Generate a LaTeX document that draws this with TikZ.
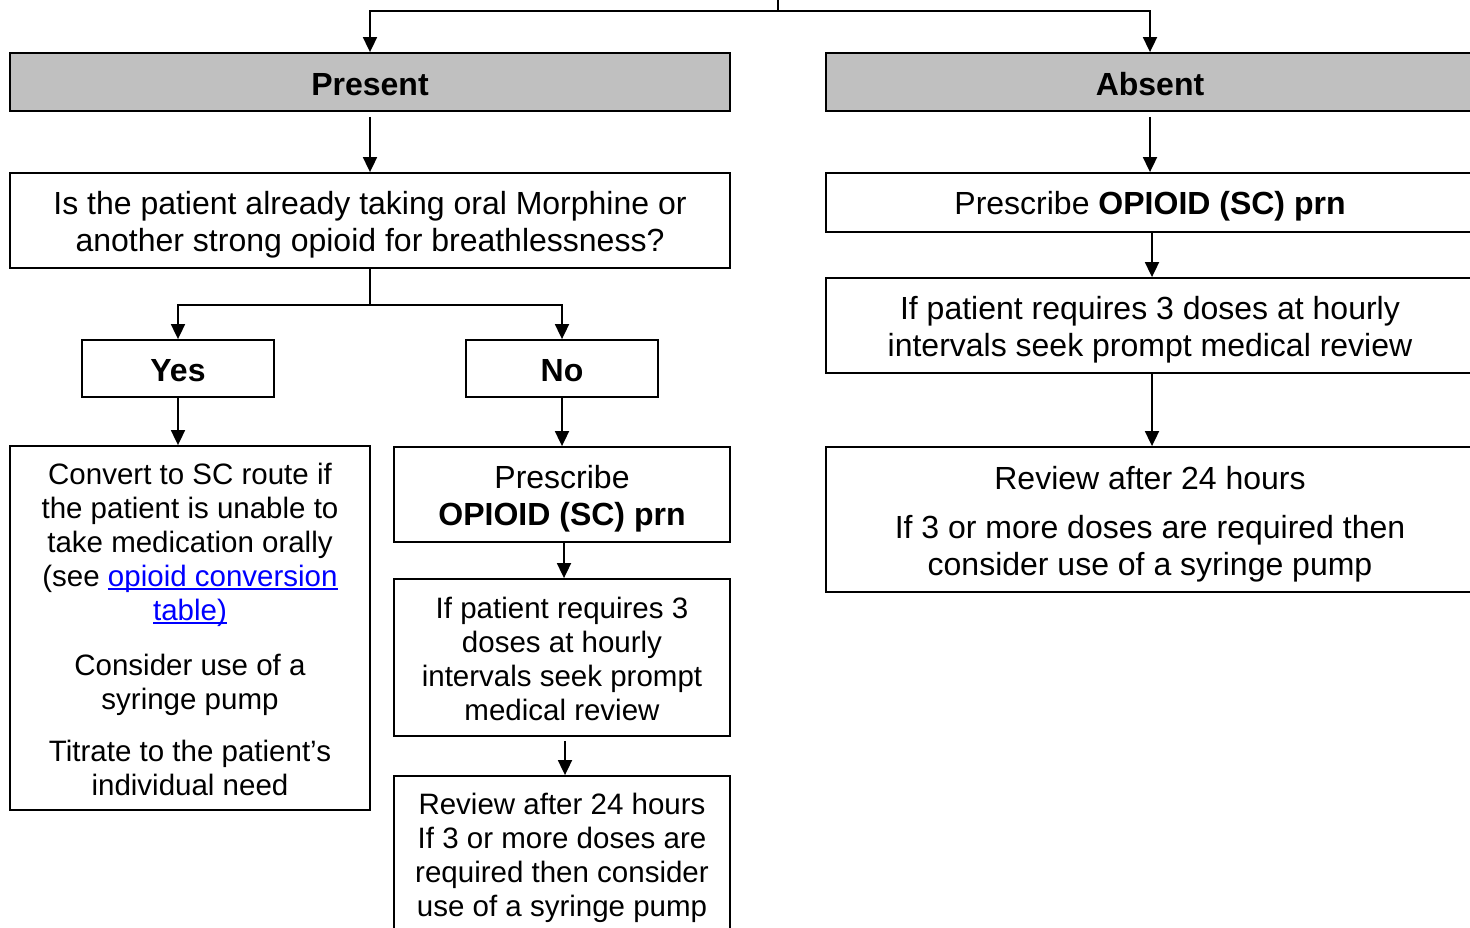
\documentclass[tikz,border=0pt]{standalone}
\usepackage{fontspec}
\setmainfont{Liberation Sans}
\usetikzlibrary{arrows.meta}
\definecolor{headgray}{HTML}{C0C0C0}
\definecolor{linkblue}{HTML}{0000FF}
\newcommand\lnk[1]{\textcolor{linkblue}{\setbox0\hbox{#1}\rlap{\rule[-3.5pt]{\wd0}{1.8pt}}\box0}}
\begin{document}
\begin{tikzpicture}[x=1pt,y=-1pt,
  box/.style={draw=black,line width=1.8pt,inner sep=0pt},
  txt/.style={align=center,inner sep=0pt},
  bigtxt/.style={txt,font=\fontsize{32}{36.8}\selectfont},
  smalltxt/.style={txt,font=\fontsize{29.5}{34}\selectfont},
  head/.style={box,fill=headgray},
  conn/.style={line width=1.8pt},
  arr/.style={conn,-{Triangle[length=15pt,width=14pt]}}
]
\useasboundingbox (0,0) rectangle (1470,928);
\clip (0,0) rectangle (1470,928);
% headers
\node[head,minimum width=720,minimum height=58] (present) at (370,82) {};
\node[bigtxt] (presentt) at ([yshift=-2.5pt]present.center) {\textbf{Present}};
\node[head,minimum width=648,minimum height=58] (absent) at (1150,82) {};
\node[bigtxt] (absentt) at ([yshift=-2.5pt]absent.center) {\textbf{Absent}};
% left column
\node[box,minimum width=720,minimum height=95] (q) at (370,220.5) {};
\node[bigtxt] (qt) at ([yshift=-4pt]q.center)
  {Is the patient already taking oral Morphine or\\another strong opioid for breathlessness?};
\node[box,minimum width=192,minimum height=57] (yes) at (178,368.5) {};
\node[bigtxt] (yest) at ([yshift=-2pt]yes.center) {\textbf{Yes}};
\node[box,minimum width=192,minimum height=57] (no) at (562,368.5) {};
\node[bigtxt] (not) at ([yshift=-2pt]no.center) {\textbf{No}};
\node[box,minimum width=360,minimum height=364] (conv) at (190,628) {};
\node[smalltxt] (convt) at ([yshift=-1.5pt]conv.center)
  {Convert to SC route if\\the patient is unable to\\take medication orally\\(see \lnk{opioid conversion}\\\lnk{table)}\\[21pt]
   Consider use of a\\syringe pump\\[18pt]
   Titrate to the patient’s\\individual need};
\node[box,minimum width=336,minimum height=95] (presL) at (562,494.5) {};
\node[bigtxt] (presLt) at ([yshift=-4.5pt]presL.center)
  {Prescribe\\\textbf{OPIOID (SC) prn}};
\node[box,minimum width=336,minimum height=157] (ifL) at (562,657.5) {};
\node[smalltxt] (ifLt) at ([yshift=-1.5pt]ifL.center)
  {If patient requires 3\\doses at hourly\\intervals seek prompt\\medical review};
\node[box,minimum width=336,minimum height=158] (revL) at (562,855) {};
\node[smalltxt] (revLt) at ([yshift=-3pt]revL.center)
  {Review after 24 hours\\If 3 or more doses are\\required then consider\\use of a syringe pump};
% right column
\node[box,minimum width=648,minimum height=59] (presR) at (1150,202.5) {};
\node[bigtxt] (presRt) at ([yshift=-4pt]presR.center)
  {Prescribe \textbf{OPIOID (SC) prn}};
\node[box,minimum width=648,minimum height=95] (ifR) at (1150,325.5) {};
\node[bigtxt] (ifRt) at ([yshift=-4.5pt]ifR.center)
  {If patient requires 3 doses at hourly\\intervals seek prompt medical review};
\node[box,minimum width=648,minimum height=145] (revR) at (1150,519.5) {};
\node[bigtxt] (revRt) at ([yshift=-5pt]revR.center)
  {Review after 24 hours\\[12pt]If 3 or more doses are required then\\consider use of a syringe pump};
% connectors
\coordinate (top) at (778,0);
\draw[conn] (top) -- ++(0,11) coordinate (tj);
\draw[arr] (tj) -| (present.north);
\draw[arr] (tj) -| (absent.north);
\draw[arr,shorten <=5pt] (present.south) -- (q.north);
\draw[conn] (q.south) -- ++(0,36) coordinate (qj);
\draw[arr] (qj) -| (yes.north);
\draw[arr] (qj) -| (no.north);
\draw[arr] (yes.south) -- (yes.south |- conv.north);
\draw[arr] (no.south) -- (presL.north);
\draw[arr] ([xshift=2pt]presL.south) -- ([xshift=2pt]ifL.north);
\draw[arr,shorten <=4pt] ([xshift=3pt]ifL.south) -- ([xshift=3pt]revL.north);
\draw[arr,shorten <=5pt] (absent.south) -- (presR.north);
\draw[arr] ([xshift=2pt]presR.south) -- ([xshift=2pt]ifR.north);
\draw[arr] ([xshift=2pt]ifR.south) -- ([xshift=2pt]revR.north);
\end{tikzpicture}
\end{document}
